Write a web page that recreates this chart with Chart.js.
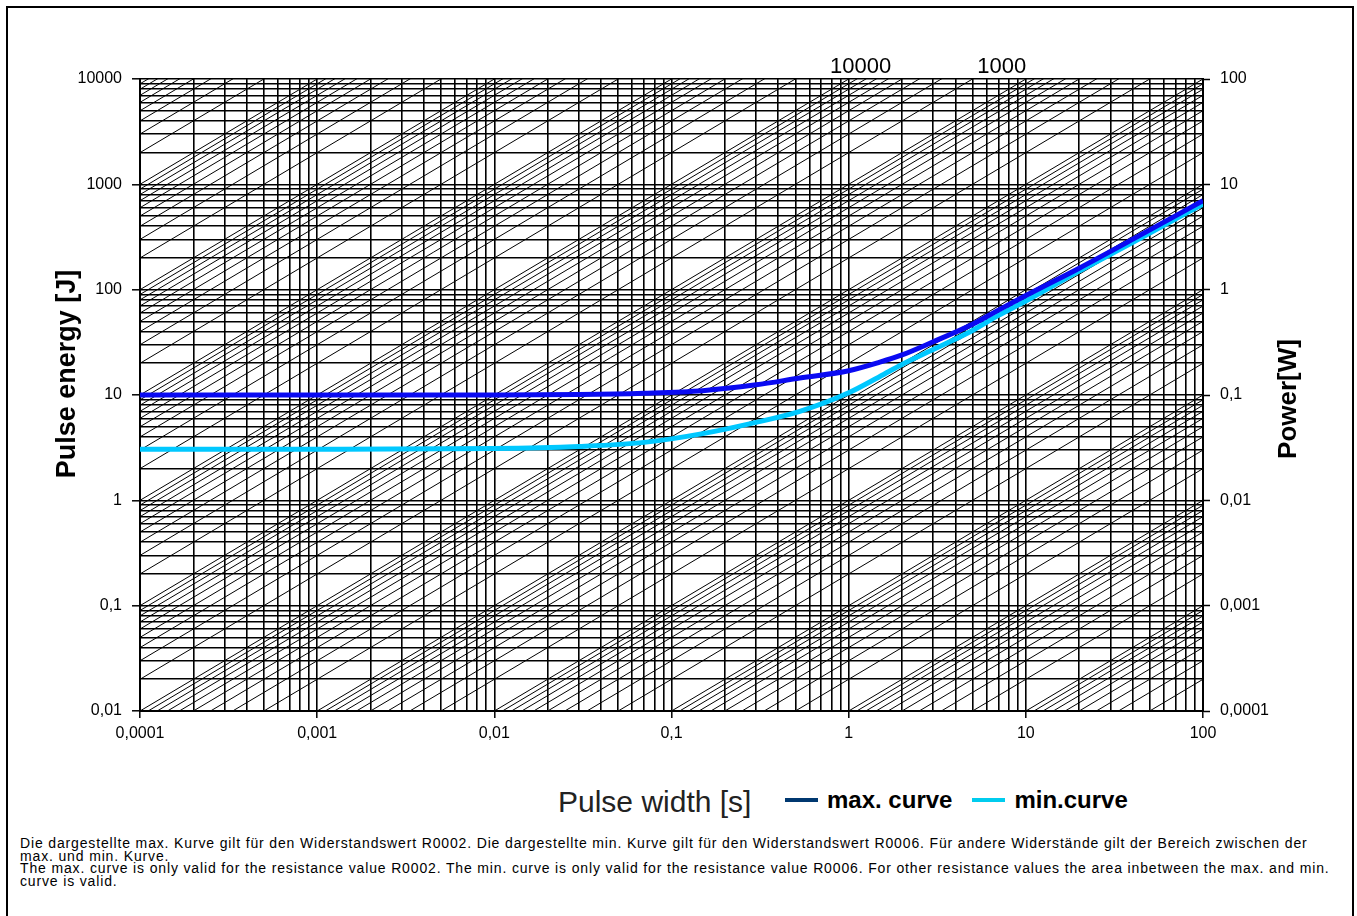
<!DOCTYPE html>
<html>
<head>
<meta charset="utf-8">
<title>Pulse energy vs pulse width</title>
<script src="https://cdn.jsdelivr.net/npm/chart.js@4.4.0/dist/chart.umd.min.js"></script>
<style>
    body { margin: 0; background: #fff; font-family: "Liberation Sans", Arial, sans-serif; }
    #frame { position: absolute; left: 6px; top: 6px; width: 1344px; height: 940px; border: 2px solid #000; }
    #wrap { position: absolute; left: 0; top: 0; width: 1357px; height: 760px; }
    #xtitle { position: absolute; left: 558px; top: 785px; font-size: 30px; color: #222; }
    #legend { position: absolute; left: 785px; top: 786px; font-size: 24px; font-weight: bold; white-space: nowrap; }
    #legend .item { display: inline-block; margin-right: 20px; }
    #legend .swatch { display: inline-block; width: 33px; height: 4px; vertical-align: middle; margin-right: 9px; position: relative; top: -2px; }
    #note { position: absolute; left: 20px; top: 837px; width: 1330px; font-size: 14px; letter-spacing: 0.85px; line-height: 12.5px; white-space: nowrap; }
    #note p { margin: 0; }
</style>
</head>
<body>
<div id="frame"></div>
<div id="wrap"><canvas id="pulseChart"></canvas></div>
<div id="xtitle">Pulse width [s]</div>
<div id="legend"></div>
<div id="note">
    <p>Die dargestellte max. Kurve gilt für den Widerstandswert R0002. Die dargestellte min. Kurve gilt für den Widerstandswert R0006. Für andere Widerstände gilt der Bereich zwischen der<br>max. und min. Kurve.</p>
    <p>The max. curve is only valid for the resistance value R0002. The min. curve is only valid for the resistance value R0006. For other resistance values the area inbetween the max. and min.<br>curve is valid.</p>
</div>
<script>
// pulse width [s] and pulse energy [J]
const pulseWidth = [0.0001, 0.001, 0.01, 0.03, 0.07, 0.15, 0.3, 0.53, 1, 1.5, 2, 3, 5, 7, 10, 20, 40, 100];
const maxCurve   = [10, 10, 10, 10.1, 10.4, 11, 12.5, 14.5, 17, 20.5, 24, 32, 47, 64, 88, 160, 300, 700];
const minCurve   = [3.05, 3.05, 3.1, 3.25, 3.55, 4.3, 5.5, 7, 10.5, 15, 19.5, 27, 41, 57, 78, 150, 280, 650];

const seriesNames  = ['max. curve', 'min.curve'];
const legendColors = ['#003870', '#00ccee'];

// axis ranges and labels
const xRange = [0.0001, 100];
const yRange = [0.01, 10000];
const xTickLabels     = ['0,0001', '0,001', '0,01', '0,1', '1', '10', '100'];
const yTickLabels     = ['0,01', '0,1', '1', '10', '100', '1000', '10000'];
const powerTickLabels = ['0,0001', '0,001', '0,01', '0,1', '1', '10', '100'];

// constant power lines E = P * t  (P = k * 10^d)
const gridSteps    = [1, 2, 3, 4, 5, 6, 7, 8, 9];
const powerDecades = [-4, -3, -2, -1, 0, 1, 2, 3, 4, 5, 6, 7];
const powerLineLabels = ['10000', '1000'];

const FONT = '"Liberation Sans", Arial, sans-serif';

function isDecade(v) {
    const l = Math.log10(v);
    return Math.abs(l - Math.round(l)) < 1e-9;
}

function logTicks(min, max, minor) {
    const ticks = [];
    const d0 = Math.round(Math.log10(min));
    const d1 = Math.round(Math.log10(max));
    for (let d = d0; d < d1; d++) {
        const steps = minor ? gridSteps : [1];
        steps.forEach(k => ticks.push({ value: k * Math.pow(10, d) }));
    }
    ticks.push({ value: max });
    return ticks;
}

function decadeLabel(labels, min) {
    return function(value) {
        if (!isDecade(value)) return '';
        return labels[Math.round(Math.log10(value) - Math.log10(min))];
    };
}

function curvePoints(ys) {
    return pulseWidth.map((t, i) => ({ x: t, y: ys[i] }));
}

function powerLinePoints() {
    const pts = [];
    powerDecades.forEach(d => {
        gridSteps.forEach(k => {
            const p = k * Math.pow(10, d);
            pts.push({ x: xRange[0], y: p * xRange[0] });
            pts.push({ x: xRange[1], y: p * xRange[1] });
            pts.push({ x: xRange[1], y: null });
        });
    });
    return pts;
}

const tickColor = ctx => (ctx.tick && isDecade(ctx.tick.value)) ? '#000' : 'rgba(0,0,0,0)';

// axis titles and power line labels
const textPlugin = {
    id: 'textPlugin',
    afterDraw(chart) {
        const { ctx, scales } = chart;
        ctx.save();
        ctx.fillStyle = '#000';
        ctx.textBaseline = 'middle';
        ctx.textAlign = 'center';

        ctx.save();
        ctx.font = 'bold 27px ' + FONT;
        ctx.translate(68, 374);
        ctx.rotate(-Math.PI / 2);
        ctx.fillText('Pulse energy [J]', 0, 0);
        ctx.restore();

        ctx.save();
        ctx.font = 'bold 26px ' + FONT;
        ctx.translate(1289, 399);
        ctx.rotate(-Math.PI / 2);
        ctx.fillText('Power[W]', 0, 0);
        ctx.restore();

        // labels where the power lines hit the top edge
        ctx.font = '22px ' + FONT;
        const shift = [12, -24];
        powerLineLabels.forEach((lbl, i) => {
            const t = yRange[1] / Number(lbl);
            const x = scales.x.getPixelForValue(t) + shift[i];
            ctx.fillText(lbl, x, scales.y.top - 12);
        });
        ctx.restore();
    }
};

const legendEl = document.getElementById('legend');
legendEl.innerHTML = seriesNames.map((n, i) =>
    '<span class="item"><span class="swatch" style="background:' + legendColors[i] + '"></span>' + n + '</span>'
).join('');

new Chart(document.getElementById('pulseChart'), {
    type: 'scatter',
    data: {
        datasets: [
            {
                label: seriesNames[0],
                data: curvePoints(maxCurve),
                showLine: true,
                borderColor: '#0a0af2',
                borderWidth: 5,
                pointRadius: 0,
                cubicInterpolationMode: 'monotone'
            },
            {
                label: seriesNames[1],
                data: curvePoints(minCurve),
                showLine: true,
                borderColor: '#00c8ff',
                borderWidth: 5,
                pointRadius: 0,
                cubicInterpolationMode: 'monotone'
            },
            {
                label: 'power lines',
                data: powerLinePoints(),
                showLine: true,
                spanGaps: false,
                borderColor: '#000',
                borderWidth: 1,
                pointRadius: 0,
                tension: 0
            }
        ]
    },
    options: {
        responsive: true,
        maintainAspectRatio: false,
        animation: false,
        events: [],
        layout: { padding: { top: 79, left: 0, right: 0, bottom: 0 } },
        plugins: {
            legend: { display: false },
            tooltip: { enabled: false }
        },
        scales: {
            x: {
                type: 'logarithmic',
                position: 'bottom',
                min: xRange[0],
                max: xRange[1],
                afterBuildTicks: s => { s.ticks = logTicks(xRange[0], xRange[1], true); },
                afterFit: s => { s.height = 49; },
                ticks: {
                    autoSkip: false,
                    maxRotation: 0,
                    padding: 6,
                    color: '#000',
                    font: { size: 16, family: FONT },
                    callback: decadeLabel(xTickLabels, xRange[0])
                },
                grid: { color: '#000', lineWidth: 1.6, tickLength: 7, tickColor: tickColor, tickWidth: 1.5 },
                border: { color: '#000', width: 2 }
            },
            y: {
                type: 'logarithmic',
                position: 'left',
                min: yRange[0],
                max: yRange[1],
                afterBuildTicks: s => { s.ticks = logTicks(yRange[0], yRange[1], true); },
                afterFit: s => { s.width = 140; },
                ticks: {
                    autoSkip: false,
                    padding: 10,
                    color: '#000',
                    font: { size: 16, family: FONT },
                    callback: decadeLabel(yTickLabels, yRange[0])
                },
                grid: { color: '#000', lineWidth: 1.6, tickLength: 8, tickColor: tickColor, tickWidth: 1.5 },
                border: { color: '#000', width: 2 }
            },
            y2: {
                type: 'logarithmic',
                position: 'right',
                min: yRange[0],
                max: yRange[1],
                afterBuildTicks: s => { s.ticks = logTicks(yRange[0], yRange[1], false); },
                afterFit: s => { s.width = 154; },
                ticks: {
                    autoSkip: false,
                    padding: 10,
                    color: '#000',
                    font: { size: 16, family: FONT },
                    callback: decadeLabel(powerTickLabels, yRange[0])
                },
                grid: { drawOnChartArea: false, color: '#000', tickLength: 7, tickWidth: 1.5 },
                border: { color: '#000', width: 2 }
            }
        }
    },
    plugins: [textPlugin]
});
</script>
</body>
</html>
